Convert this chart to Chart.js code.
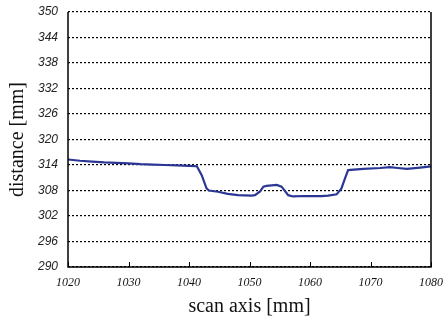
<!DOCTYPE html>
<html>
<head>
<meta charset="utf-8">
<script src="https://cdn.jsdelivr.net/npm/chart.js@4.4.1/dist/chart.umd.min.js"></script>
<style>
html,body{margin:0;padding:0;background:#fff;}
#wrap{width:448px;height:324px;}
</style>
</head>
<body>
<div id="wrap"><canvas id="c" width="448" height="324"></canvas></div>
<script>
const scanMm = [1020,1022,1024,1026,1028,1030,1032,1034,1036,1038,1040,1041.3,1042.1,1042.9,1043.3,1044.8,1046.4,1048.1,1050.4,1050.9,1051.7,1052.3,1052.8,1054.5,1055.3,1056.4,1057.2,1059,1061.9,1063,1064.4,1065.2,1065.8,1066.3,1068.8,1071.6,1073.2,1074.5,1076,1078.2,1080];
const distanceMm = [315.3,315.0,314.8,314.6,314.5,314.4,314.2,314.1,314.0,313.9,313.8,313.7,311.6,308.5,308.0,307.7,307.2,306.9,306.8,306.9,307.7,308.9,309.1,309.3,308.9,306.9,306.6,306.7,306.7,306.8,307.1,308.5,310.9,312.8,313.1,313.3,313.5,313.3,313.1,313.4,313.7];
const xTicks = [1020,1030,1040,1050,1060,1070,1080];
const yTicks = [290,296,302,308,314,320,326,332,338,344,350];

const points = scanMm.map((x,i)=>({x:x,y:distanceMm[i]}));

function zeroPad(s){ s.paddingTop = 0; s.paddingBottom = 0; s.paddingLeft = 0; s.paddingRight = 0; }

const framePlugin = {
  id:'frame',
  afterDraw(chart){
    const ctx = chart.ctx, a = chart.chartArea, xs = chart.scales.x;
    ctx.save();
    ctx.strokeStyle = '#000';
    ctx.lineWidth = 1.5;
    ctx.setLineDash([]);
    ctx.beginPath();
    ctx.moveTo(a.left, a.top);
    ctx.lineTo(a.left, a.bottom);
    ctx.lineTo(a.right, a.bottom);
    ctx.lineTo(a.right, a.top);
    ctx.stroke();
    ctx.lineWidth = 1;
    xs.ticks.forEach(t=>{
      const px = Math.round(xs.getPixelForValue(t.value)) + 0.5;
      ctx.beginPath();
      ctx.moveTo(px, a.bottom);
      ctx.lineTo(px, a.bottom - 5);
      ctx.stroke();
    });
    ctx.restore();
  }
};

new Chart(document.getElementById('c'), {
  type:'scatter',
  data:{datasets:[{
    data: points,
    showLine:true,
    borderColor:'#2b3795',
    borderWidth:2.2,
    pointRadius:0,
    tension:0
  }]},
  options:{
    responsive:false,
    animation:false,
    plugins:{legend:{display:false},tooltip:{enabled:false}},
    layout:{padding:{top:12,right:17,left:0,bottom:0}},
    scales:{
      x:{
        type:'linear', min:1020, max:1080,
        afterBuildTicks(s){ s.ticks = xTicks.map(v=>({value:v})); },
        afterFit(s){ s.height = 57; zeroPad(s); },
        grid:{display:false, drawTicks:false},
        border:{display:false},
        ticks:{padding:9, color:'#111', font:{family:'"Liberation Serif"', size:12, style:'italic'}, maxRotation:0, callback:v=>String(v)},
        title:{display:true, text:'scan axis [mm]', color:'#111', font:{family:'"Liberation Serif"', size:20}, padding:{top:2,bottom:5}}
      },
      y:{
        type:'linear', min:290, max:350,
        afterBuildTicks(s){ s.ticks = yTicks.map(v=>({value:v})); },
        afterFit(s){ s.width = 68; zeroPad(s); },
        grid:{drawTicks:false, color:'#000', lineWidth:1.2},
        border:{display:false, dash:[2,2]},
        ticks:{padding:10, color:'#222', font:{family:'"Liberation Sans"', size:12, style:'italic'}, callback:v=>String(v)},
        title:{display:true, text:'distance [mm]', color:'#111', font:{family:'"Liberation Serif"', size:20}, padding:{top:6,bottom:0}}
      }
    }
  },
  plugins:[framePlugin]
});
</script>
</body>
</html>
